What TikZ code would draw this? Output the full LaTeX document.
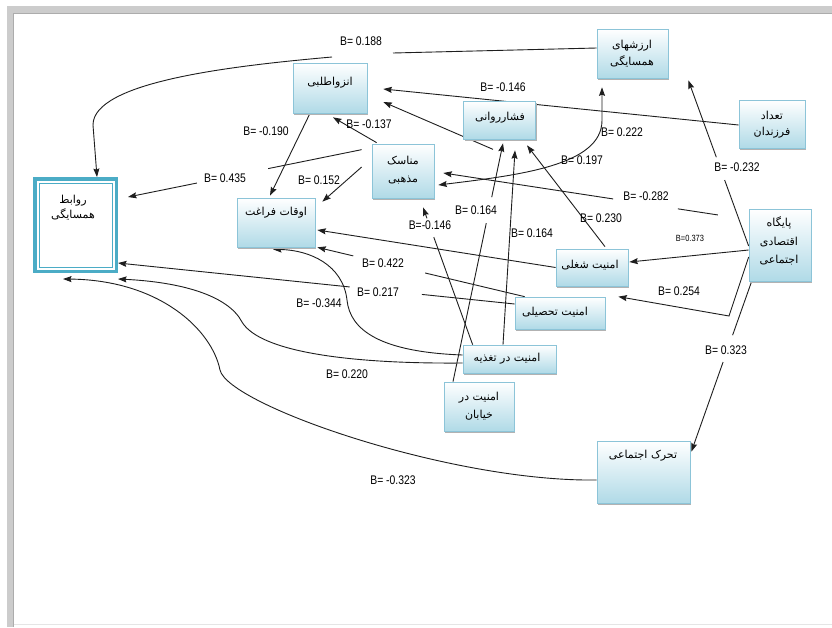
\documentclass[tikz,border=0pt]{standalone}
\usepackage{fontspec}
\newfontfamily\arabicfont[Script=Arabic]{DejaVu Sans}
\newfontfamily\lblfont[FakeStretch=0.83]{Liberation Sans}
\TeXXeTstate=1
\usetikzlibrary{arrows.meta,calc,shadows,backgrounds}
\newcommand\rl[1]{\beginR#1\endR}
\definecolor{boxbot}{RGB}{176,218,231}
\definecolor{boxedge}{RGB}{140,196,216}
\definecolor{rvteal}{RGB}{75,172,198}
\definecolor{ink}{RGB}{30,30,30}
\tikzset{
  bx/.style={draw=boxedge, line width=0.7pt, top color=white, bottom color=boxbot,
    general shadow={fill=gray!60, shadow xshift=1.3pt, shadow yshift=-2pt}, inner sep=0pt},
  fa/.style={font=\arabicfont\fontsize{11}{17}\selectfont, align=center, inner sep=0pt, text=black},
  lbl/.style={font=\lblfont\fontsize{12.5}{14}\selectfont, inner sep=0pt, text=black},
  lblsmall/.style={font=\lblfont\fontsize{9}{10}\selectfont, inner sep=0pt, text=black},
  ln/.style={draw=ink, line width=0.9pt},
  arr/.style={-{Stealth[length=8.5pt,width=6pt,inset=1.2pt]}},
  arrb/.style={{Stealth[length=8.5pt,width=6pt,inset=1.2pt]}-{Stealth[length=8.5pt,width=6pt,inset=1.2pt]}},
}
\newcommand\gapped[4]{%
  \draw[ln] (#1) -- ($(#1)!#3!(#2)$);
  \draw[ln,arr] ($(#1)!#4!(#2)$) -- (#2);}
\begin{document}
\begin{tikzpicture}[x=1pt,y=-1pt]
\useasboundingbox (0,0) rectangle (832,627);
% ---------- boxes ----------
\node[draw=rvteal, line width=3.5pt, fill=white, outer sep=1.75pt,
      minimum width=81.5pt, minimum height=92.5pt] (rv) at (75.5,225) {};
\draw[rvteal, line width=0.8pt] ($(rv.north west)+(6,6)$) rectangle ($(rv.south east)+(-6,-6)$);
\node[bx, minimum width=74pt, minimum height=50pt] (enz) at (330,88) {};
\node[bx, minimum width=71pt, minimum height=49pt] (arz) at (632.5,53.5) {};
\node[bx, minimum width=72pt, minimum height=38pt] (fsh) at (499.5,120) {};
\node[bx, minimum width=66pt, minimum height=48pt] (tdd) at (772,124) {};
\node[bx, minimum width=62pt, minimum height=54pt] (mns) at (403,171) {};
\node[bx, minimum width=78pt, minimum height=49pt] (avq) at (276,222.5) {};
\node[bx, minimum width=62pt, minimum height=72pt] (pay) at (780,245) {};
\node[bx, minimum width=72pt, minimum height=37pt] (shg) at (592,267.5) {};
\node[bx, minimum width=90pt, minimum height=32pt] (tah) at (560,313) {};
\node[bx, minimum width=93pt, minimum height=28pt] (tgh) at (509.5,359) {};
\node[bx, minimum width=70pt, minimum height=49pt] (khy) at (479,406.5) {};
\node[bx, minimum width=93pt, minimum height=62pt] (thr) at (643.5,472) {};
% ---------- box texts ----------
\node[fa, font=\arabicfont\fontsize{11}{15.5}\selectfont] (t-rv) at (73,207.5) {\rl{روابط}\\\rl{همسایگی}};
\node[fa] (t-enz) at (330,83) {\rl{انزواطلبی}};
\node[fa] (t-arz) at (632,53.5) {\rl{ارزشهای}\\\rl{همسایگی}};
\node[fa] (t-fsh) at (500,118) {\rl{فشارروانی}};
\node[fa, font=\arabicfont\fontsize{11}{15.5}\selectfont] (t-tdd) at (772,124.5) {\rl{تعداد}\\\rl{فرزندان}};
\node[fa, font=\arabicfont\fontsize{11}{18.5}\selectfont] (t-mns) at (403,170) {\rl{مناسک}\\\rl{مذهبی}};
\node[fa] (t-avq) at (276,213) {\rl{اوقات فراغت}};
\node[fa, font=\arabicfont\fontsize{11}{18.5}\selectfont] (t-pay) at (779,241) {\rl{پایگاه}\\\rl{اقتصادی}\\\rl{اجتماعی}};
\node[fa] (t-shg) at (590,265) {\rl{امنیت شغلی}};
\node[fa] (t-tah) at (555,312) {\rl{امنیت تحصیلی}};
\node[fa] (t-tgh) at (507,359) {\rl{امنیت در تغذیه}};
\node[fa, font=\arabicfont\fontsize{11}{18}\selectfont] (t-khy) at (479,406) {\rl{امنیت در}\\\rl{خیابان}};
\node[fa] (t-thr) at (643,456) {\rl{تحرک اجتماعی}};
% ---------- connector end points ----------
\coordinate (e1s) at ($(arz.west)+(0,-5.5)$);
\coordinate (e1t) at ($(rv.north)+(21.5,0)$);
\coordinate (e2s) at ($(tdd.west)+(0,1)$);
\coordinate (e2t) at ($(enz.east)+(16,1)$);
\coordinate (e3s) at ($(fsh.south)+(-6.5,10)$);
\coordinate (e3t) at ($(enz.east)+(16,14)$);
\coordinate (e4s) at ($(mns.north west)+(5,-1)$);
\coordinate (e4t) at ($(enz.south)+(3,4)$);
\coordinate (e5s) at ($(enz.south)+(-20,0)$);
\coordinate (e5t) at ($(avq.north)+(-6,-2)$);
\coordinate (e6s) at ($(mns.north west)+(-10,6)$);
\coordinate (e6t) at ($(rv.north east)+(10,20)$);
\coordinate (e7s) at ($(mns.west)+(-10,-4)$);
\coordinate (e7t) at ($(avq.north east)+(7,4)$);
\coordinate (e8a) at ($(arz.south)+(-30.5,9)$);
\coordinate (e8b) at ($(mns.east)+(4,14)$);
\coordinate (e9s) at ($(pay.north west)+(0,11)$);
\coordinate (e9t) at ($(mns.east)+(9,2)$);
\coordinate (e10s) at ($(khy.north)+(-26,0)$);
\coordinate (e10t) at ($(fsh.south)+(3.5,4)$);
\coordinate (e11s) at ($(tgh.north)+(-6.5,0)$);
\coordinate (e11t) at ($(fsh.south)+(15.5,11)$);
\coordinate (e12s) at ($(shg.north)+(13,-2)$);
\coordinate (e12t) at ($(fsh.south)+(27.5,6)$);
\coordinate (e13s) at (shg.west);
\coordinate (e13t) at ($(avq.east)+(2,7.5)$);
\coordinate (e14s) at ($(tah.north west)+(10,0)$);
\coordinate (e14t) at ($(avq.south east)+(2,0)$);
\coordinate (e15s) at ($(tah.west)+(0,-9)$);
\coordinate (e15t) at ($(rv.south east)+(0,-10)$);
\coordinate (e16s) at ($(tgh.west)+(0,-4)$);
\coordinate (e16t) at ($(avq.south)+(-3,2)$);
\coordinate (e17s) at ($(tgh.west)+(0,4)$);
\coordinate (e17t) at ($(rv.south east)+(0,6)$);
\coordinate (e18s) at ($(thr.west)+(0,8)$);
\coordinate (e18t) at ($(rv.south west)+(30,6)$);
\coordinate (e19s) at ($(pay.south west)+(3,0)$);
\coordinate (e19t) at ($(thr.north east)+(1,11)$);
\coordinate (e20s) at ($(pay.west)+(0,12)$);
\coordinate (e20t) at ($(tah.north east)+(13,0)$);
\coordinate (e21s) at ($(pay.west)+(0,5)$);
\coordinate (e21t) at ($(shg.east)+(1,-5.5)$);
\coordinate (e22s) at ($(pay.west)+(0,1)$);
\coordinate (e22t) at ($(arz.south east)+(20,2)$);
\coordinate (e23s) at ($(tgh.north west)+(10,0)$);
\coordinate (e23t) at ($(mns.south)+(20,9)$);
% ---------- frame and connectors (behind the boxes) ----------
\begin{pgfonlayer}{background}
\fill[white] (0,0) rectangle (832,627);
\fill[gray!40] (7,6) rectangle (832,13);
\fill[gray!40] (7,6) rectangle (13,627);
\draw[gray!65, line width=0.6pt] (13.5,627) -- (13.5,13.5) -- (832,13.5);
\draw[gray!20, line width=0.8pt] (13.5,624) -- (832,624);
% E1
\draw[ln] (e1s) -- (393,53);
\draw[ln,arr] (332,57) .. controls (230,66) and (93,82) .. (93,125) -- (e1t);
% straight ones
\draw[ln,arr] (e2s) -- (e2t);
\draw[ln,arr] (e3s) -- (e3t);
\draw[ln,arr] (e4s) -- (e4t);
\draw[ln,arr] (e5s) -- (e5t);
\gapped{e6s}{e6t}{0.40}{0.705}
\draw[ln,arr] (e7s) -- (e7t);
\draw[ln,arrb] (e8a) -- ++(0,33) .. controls +(0,45) and (520,175) .. (e8b);
\draw[ln] ($(e9s)!0.101!(e9t)$) -- ($(e9s)!0.232!(e9t)$);
\draw[ln,arr] ($(e9s)!0.444!(e9t)$) -- (e9t);
\gapped{e10s}{e10t}{0.665}{0.774}
\draw[ln,arr] (e11s) -- (e11t);
\draw[ln,arr] (e12s) -- (e12t);
\draw[ln,arr] (e13s) -- (e13t);
\gapped{e14s}{e14t}{0.48}{0.827}
\gapped{e15s}{e15t}{0.234}{0.416}
\draw[ln,arr] (e16s) .. controls (380,352) and (350,330) .. (347,300)
   .. controls (343,265) and (310,250) .. (e16t);
\draw[ln,arr] (e17s) .. controls (350,364) and (260,352) .. (242,322)
   .. controls (228,295) and (180,282) .. (e17t);
\draw[ln,arr] (e18s) .. controls (450,482) and (228,405) .. (220,370)
   .. controls (212,330) and (160,280) .. (e18t);
\gapped{e19s}{e19t}{0.316}{0.474}
\draw[ln,arr] (e20s) -- (729,316) -- (e20t);
\draw[ln,arr] (e21s) -- (e21t);
\gapped{e22s}{e22t}{0.398}{0.536}
\draw[ln] (e23s) -- ($(e23s)!0.783!(e23t)$);
\draw[ln,arr] ($(e23s)!0.92!(e23t)$) -- (e23t);
\end{pgfonlayer}
% ---------- labels ----------
\node[lbl] (l188) at (361,41) {B= 0.188};
\node[lbl] (l146a) at (503,87) {B= -0.146};
\node[lbl] (l137) at (369,124) {B= -0.137};
\node[lbl] (l190) at (266,131) {B= -0.190};
\node[lbl] (l435) at (225,178) {B= 0.435};
\node[lbl] (l152) at (319,180) {B= 0.152};
\node[lbl] (l222) at (622,132) {B= 0.222};
\node[lbl] (l197) at (582,160) {B= 0.197};
\node[lbl] (l282) at (646,196) {B= -0.282};
\node[lbl] (l232) at (737,167) {B= -0.232};
\node[lbl] (l164a) at (476,210) {B= 0.164};
\node[lbl] (l164b) at (532,233) {B= 0.164};
\node[lbl] (l146b) at (430,225) {B=-0.146};
\node[lbl] (l230) at (601,218) {B= 0.230};
\node[lblsmall] (l373) at (690,238) {B=0.373};
\node[lbl] (l422) at (383,263) {B= 0.422};
\node[lbl] (l254) at (679,291) {B= 0.254};
\node[lbl] (l217) at (378,292) {B= 0.217};
\node[lbl] (l344) at (319,303) {B= -0.344};
\node[lbl] (l323a) at (726,350) {B= 0.323};
\node[lbl] (l220) at (347,374) {B= 0.220};
\node[lbl] (l323b) at (393,480) {B= -0.323};
\end{tikzpicture}
\end{document}
